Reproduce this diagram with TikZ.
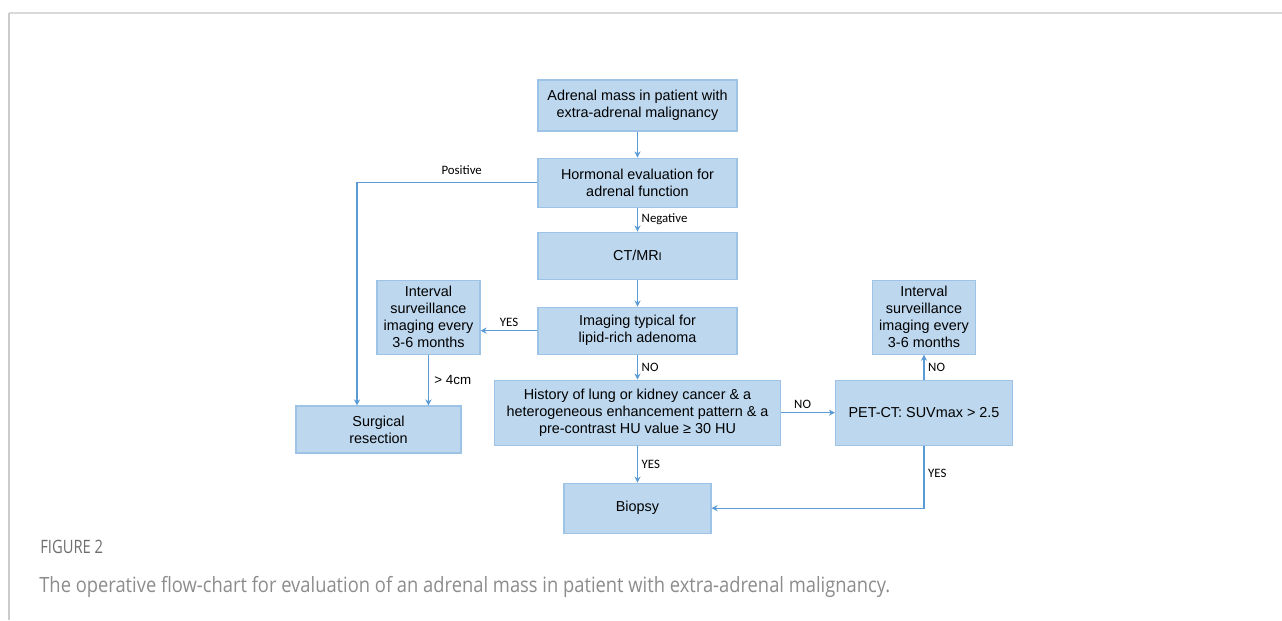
\documentclass[tikz,border=0pt]{standalone}
\usepackage{fontspec}
\setmainfont{Liberation Sans}
\newfontfamily\labelfont{Carlito}
\newfontfamily\capfont[FakeStretch=0.87]{Open Sans}
\newfontfamily\fignofont[FakeStretch=0.8]{Open Sans}
\usetikzlibrary{positioning, arrows.meta}
\usetikzlibrary{calc}
\definecolor{boxblue}{HTML}{BDD7EE}
\definecolor{boxedge}{HTML}{9DC3E6}
\definecolor{flowblue}{HTML}{5B9BD5}
\definecolor{capgray}{HTML}{8C8C8C}
\definecolor{figgray}{HTML}{6E6E6E}

\begin{document}
\begin{tikzpicture}[
      x=0.02cm, y=-0.02cm,
      node distance=0.5cm,
      block/.style={rectangle, draw=boxedge, fill=boxblue, line width=0.6pt, align=center, inner sep=2pt, font=\fontsize{8.2}{9.6}\selectfont},
      arrow/.style={-{Stealth[length=3.5pt, width=3.5pt]}, draw=flowblue, line width=0.8pt},
      tag/.style={font=\labelfont\fontsize{7.3}{8}\selectfont, inner sep=2pt}
    ]
      \useasboundingbox (0,0) rectangle (1282,620);
      % Page frame
      \draw[gray!30, line width=1.2pt] (1282,13) -- (9,13);
      \draw[gray!40, line width=0.6pt] (9,13) -- (9,620);

      % Nodes
      \node[block, minimum width=3.98cm, minimum height=1.02cm] (mass) at (637.5,105.5) {Adrenal mass in patient with\\extra-adrenal malignancy};
      \node[block, minimum width=3.98cm, minimum height=0.98cm, below=0.52cm of mass] (hormonal) {Hormonal evaluation for\\adrenal function};
      \node[block, minimum width=3.98cm, minimum height=0.94cm, below=0.48cm of hormonal] (ct) {CT/MR{\fontsize{6.4}{8}\selectfont I}};
      \node[block, minimum width=3.98cm, minimum height=0.94cm, below=0.54cm of ct] (typical) {Imaging typical for\\lipid-rich adenoma};
      \node[block, minimum width=2.06cm, minimum height=1.48cm, left=1.14cm of typical.south west, anchor=south east] (survleft) {Interval\\surveillance\\imaging every\\3-6 months};
      \node[block, minimum width=5.72cm, minimum height=1.3cm, below=0.5cm of typical] (history) {History of lung or kidney cancer \& a\\heterogeneous enhancement pattern \& a\\pre-contrast HU value ≥ 30 HU};
      \node[block, minimum width=3.54cm, minimum height=1.3cm, right=1.08cm of history] (pet) {PET-CT: SUVmax > 2.5};
      \node[block, minimum width=2.06cm, minimum height=1.48cm, above=0.5cm of pet] (survright) {Interval\\surveillance\\imaging every\\3-6 months};
      \node[block, minimum width=2.94cm, minimum height=1.0cm, below=0.74cm of history] (biopsy) {Biopsy};
      \node[block, minimum width=3.3cm, minimum height=0.94cm] (resection) at (378.5,429.5) {Surgical\\resection};
      \coordinate (posend) at ($(resection.north)+(-21.5,0)$);

      % Arrows
      \draw[arrow] (mass) -- (hormonal);
      \draw[arrow] (hormonal.west) -| node[tag, above, inner sep=4pt, pos=0.21] {Positive} (posend);
      \draw[arrow] (hormonal) -- node[tag, right] {Negative} (ct);
      \draw[arrow] (ct) -- (typical);
      \draw[arrow] (typical.west) -- node[tag, above] {YES} (typical.west -| survleft.east);
      \draw[arrow] (survleft.south) -- node[right, inner sep=3pt, font=\fontsize{7.6}{8}\selectfont] {> 4cm} (survleft.south |- resection.north);
      \draw[arrow] (typical) -- node[tag, right] {NO} (history);
      \draw[arrow] (history) -- node[tag, above, pos=0.4] {NO} (pet);
      \draw[arrow] (pet) -- node[tag, right] {NO} (survright);
      \draw[arrow] (history) -- node[tag, right] {YES} (biopsy);
      \draw[arrow] (pet.south) |- node[tag, right, pos=0.22] {YES} (biopsy.east);

      % Caption
      \node[anchor=base west, inner sep=0pt, text=figgray, font=\fignofont\fontsize{10.5}{12}\selectfont] (figno) at (40,553) {FIGURE 2};
      \node[anchor=base west, inner sep=0pt, text=capgray, font=\capfont\fontsize{12}{14}\selectfont] (caption) at (39,592) {The operative flow-chart for evaluation of an adrenal mass in patient with extra-adrenal malignancy.};
    \end{tikzpicture}
\end{document}
